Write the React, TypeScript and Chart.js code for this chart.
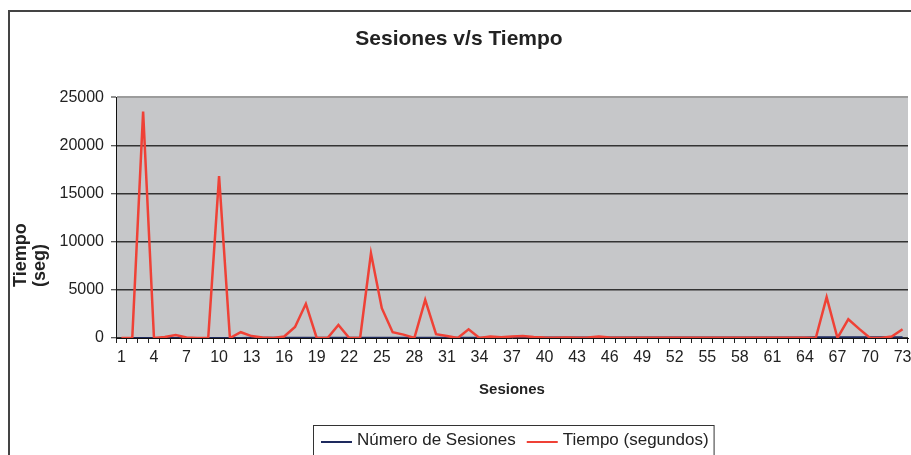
import React, { useEffect, useRef } from "react";
import { Chart, registerables } from "chart.js";

Chart.register(...registerables);

const FONT = "'Liberation Sans', Arial, Helvetica, sans-serif";

const chartTitle = "Sesiones v/s Tiempo";
const xAxisTitle = "Sesiones";
const yAxisTitleLines = ["Tiempo", "(seg)"];

const categories = [
  "1", "2", "3", "4", "5", "6", "7", "8", "9", "10",
  "11", "12", "13", "14", "15", "16", "17", "18", "19", "20",
  "21", "22", "23", "24", "25", "26", "27", "28", "29", "30",
  "31", "32", "33", "34", "35", "36", "37", "38", "39", "40",
  "41", "42", "43", "44", "45", "46", "47", "48", "49", "50",
  "51", "52", "53", "54", "55", "56", "57", "58", "59", "60",
  "61", "62", "63", "64", "65", "66", "67", "68", "69", "70",
  "71", "72", "73",
];

const shownTickLabels = [
  "1", "4", "7", "10", "13", "16", "19", "22", "25", "28", "31", "34", "37",
  "40", "43", "46", "49", "52", "55", "58", "61", "64", "67", "70", "73",
];

const yTickValues = [0, 5000, 10000, 15000, 20000, 25000];

const numeroSesionesLabel = "Número de Sesiones";
const numeroSesiones = [
  1, 2, 3, 4, 5, 6, 7, 8, 9, 10,
  11, 12, 13, 14, 15, 16, 17, 18, 19, 20,
  21, 22, 23, 24, 25, 26, 27, 28, 29, 30,
  31, 32, 33, 34, 35, 36, 37, 38, 39, 40,
  41, 42, 43, 44, 45, 46, 47, 48, 49, 50,
  51, 52, 53, 54, 55, 56, 57, 58, 59, 60,
  61, 62, 63, 64, 65, 66, 67, 68, 69, 70,
  71, 72, 73,
];

const tiempoLabel = "Tiempo (segundos)";
const tiempoSegundos = [
  0, 0, 23500, 0, 100, 300, 50, 0, 0, 16800,
  0, 600, 200, 50, 0, 150, 1150, 3550, 0, 0,
  1350, 0, 0, 8800, 3100, 600, 350, 0, 3950, 400,
  200, 0, 900, 0, 150, 80, 150, 200, 100, 40,
  30, 40, 30, 40, 150, 40, 30, 30, 30, 30,
  30, 30, 30, 30, 30, 30, 30, 30, 30, 30,
  30, 30, 30, 30, 0, 4250, 0, 1950, 950, 0,
  0, 150, 900,
];

const plotBackground = {
  id: "plotBackground",
  beforeDraw(chart: any) {
    const { ctx, chartArea } = chart;
    ctx.save();
    ctx.fillStyle = "#c6c7c9";
    ctx.fillRect(chartArea.left, chartArea.top, chartArea.right - chartArea.left, chartArea.bottom - chartArea.top);
    ctx.restore();
  },
};

const yTitlePlugin = {
  id: "yTitlePlugin",
  afterDraw(chart: any) {
    const { ctx } = chart;
    ctx.save();
    ctx.font = `bold 18px ${FONT}`;
    ctx.fillStyle = "#222";
    ctx.textBaseline = "middle";
    ctx.textAlign = "left";
    ctx.translate(11, 275);
    ctx.rotate(-Math.PI / 2);
    yAxisTitleLines.forEach((line, i) => ctx.fillText(line, 0, i * 19));
    ctx.restore();
  },
};

const boxedLegend = {
  id: "boxedLegend",
  afterDraw(chart: any) {
    const { ctx } = chart;
    const boxLeft = 303;
    const boxTop = 413;
    const boxHeight = 40;
    const sample = 31;
    ctx.save();
    ctx.font = `17px ${FONT}`;
    ctx.textBaseline = "alphabetic";
    ctx.textAlign = "left";
    let x = boxLeft + 8;
    chart.data.datasets.forEach((ds: any, i: number) => {
      ctx.strokeStyle = ds.borderColor;
      ctx.lineWidth = 2;
      ctx.beginPath();
      ctx.moveTo(x, 430);
      ctx.lineTo(x + sample, 430);
      ctx.stroke();
      x += sample + 5;
      ctx.fillStyle = "#222";
      ctx.fillText(ds.label, x, 432.5);
      x += ctx.measureText(ds.label).width;
      if (i < chart.data.datasets.length - 1) x += 11;
    });
    const boxRight = x + 5;
    ctx.strokeStyle = "#333";
    ctx.lineWidth = 1;
    ctx.strokeRect(boxLeft + 0.5, boxTop + 0.5, boxRight - boxLeft, boxHeight);
    ctx.restore();
  },
};

export default function App() {
  const canvasRef = useRef<HTMLCanvasElement | null>(null);

  useEffect(() => {
    if (!canvasRef.current) return;
    Chart.defaults.font.family = FONT;
    Chart.defaults.color = "#222";
    const chart = new Chart(canvasRef.current, {
      type: "line",
      data: {
        labels: categories,
        datasets: [
          {
            label: numeroSesionesLabel,
            data: numeroSesiones,
            borderColor: "#1e2a5e",
            backgroundColor: "#1e2a5e",
            borderWidth: 2,
            pointRadius: 0,
            tension: 0,
            order: 1,
          },
          {
            label: tiempoLabel,
            data: tiempoSegundos,
            borderColor: "#ef4136",
            backgroundColor: "#ef4136",
            borderWidth: 2.5,
            pointRadius: 0,
            tension: 0,
            order: 0,
          },
        ],
      },
      options: {
        animation: false,
        responsive: false,
        events: [],
        layout: { padding: { left: 0, right: 16, top: 0, bottom: 64 } },
        plugins: {
          legend: { display: false },
          tooltip: { enabled: false },
          title: {
            display: true,
            text: chartTitle,
            color: "#222",
            font: { size: 21, weight: "bold" },
            padding: { top: 15, bottom: 45 },
          },
        },
        scales: {
          x: {
            offset: true,
            ticks: {
              autoSkip: false,
              maxRotation: 0,
              minRotation: 0,
              color: "#222",
              font: { size: 16 },
              padding: 5,
              callback: (_v: any, i: number) =>
                shownTickLabels.includes(categories[i]) ? categories[i] : "",
            },
            grid: {
              offset: true,
              drawOnChartArea: false,
              drawTicks: true,
              tickLength: 5,
              tickColor: "#222",
              tickWidth: 1,
            },
            border: { color: "#111", width: 1 },
            title: {
              display: true,
              text: xAxisTitle,
              color: "#222",
              font: { size: 15, weight: "bold" },
              padding: { top: 0, bottom: 9 },
            },
            afterFit: (s: any) => {
              s.height = 70;
            },
          },
          y: {
            min: yTickValues[0],
            max: yTickValues[yTickValues.length - 1],
            afterBuildTicks: (s: any) => {
              s.ticks = yTickValues.map((v) => ({ value: v }));
            },
            ticks: {
              color: "#222",
              font: { size: 16 },
              padding: 7,
              callback: (v: any) => String(v),
            },
            grid: {
              color: (c: any) => (c.tick && c.tick.value === 25000 ? "#9c9c9c" : "#333"),
              lineWidth: (c: any) => (c.tick && c.tick.value === 25000 ? 2 : 1.5),
              drawTicks: true,
              tickLength: 5,
              tickColor: "#222",
              tickWidth: 1,
            },
            border: { color: "#111", width: 1 },
            afterFit: (s: any) => {
              s.width = 106;
            },
          },
        },
      },
      plugins: [plotBackground, yTitlePlugin, boxedLegend],
    } as any);
    return () => chart.destroy();
  }, []);

  return (
    <div style={{ position: "fixed", left: 0, top: 0, width: 911, height: 455, overflow: "hidden", background: "#fff" }}>
      <div
        style={{
          position: "absolute",
          left: 8,
          top: 10,
          width: 918,
          height: 470,
          border: "2px solid #444",
          boxSizing: "border-box",
          background: "#fff",
        }}
      >
        <canvas ref={canvasRef} width={914} height={460} style={{ display: "block", width: 914, height: 460 }} />
      </div>
    </div>
  );
}
